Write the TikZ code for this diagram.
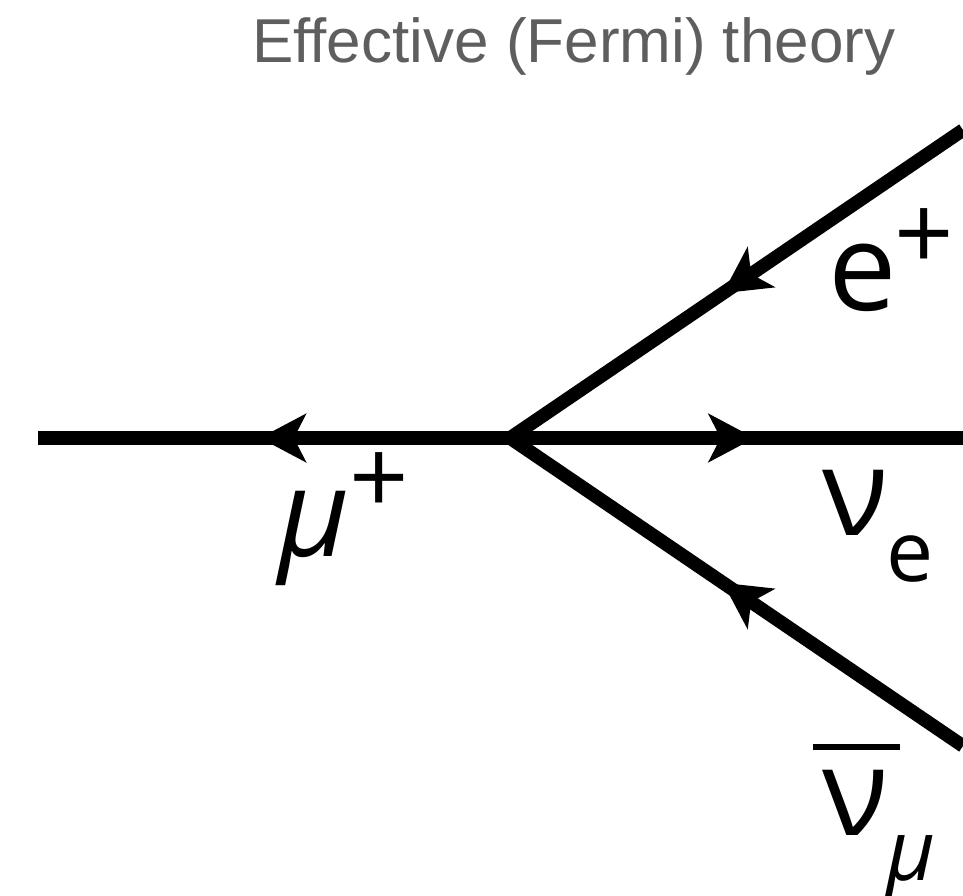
\documentclass[tikz,border=0pt]{standalone}
\usepackage{fontspec}
\setmainfont{Liberation Sans}
\newfontfamily\lblfont{Open Sans}
\usepackage{xcolor}
\definecolor{ftgray}{HTML}{5E5E5E}
\usepackage{tikz}
\usetikzlibrary{arrows.meta,decorations.markings}
\newcommand{\bigsz}{\lblfont\fontsize{122}{130}\selectfont}
\newcommand{\smlsz}{\lblfont\fontsize{84}{90}\selectfont}
\newcommand{\plussz}{\lblfont\fontsize{104}{110}\selectfont}

\begin{document}
\begin{tikzpicture}[x=1pt, y=-1pt,
  fermion/.style={line width=13.5pt, black},
  midarrow/.style={postaction={decorate, decoration={markings,
      mark=at position #1 with {\arrow{Stealth[length=46pt, width=48pt, inset=12pt]}}}}},
  lbl/.style={inner sep=0pt, font=\bigsz, black},
  title/.style={inner sep=0pt, font=\fontsize{62}{70}\selectfont\color{ftgray}}
]
\useasboundingbox (0,0) rectangle (963,896);

% vertex and external points
\coordinate (v)    at (510,438);
\coordinate (mu)   at (38,438);
\coordinate (nue)  at (963,438);
\coordinate (ep)   at (963,130);
\coordinate (numu) at (963,746);

% lines
\draw[fermion, midarrow=0.53] (v) -- (mu);
\draw[fermion, midarrow=0.54] (v) -- (nue);
\draw[fermion, midarrow=0.53] (ep) -- (v);
\draw[fermion, midarrow=0.53] (numu) -- (v);

% labels
\node[title, anchor=base west] (ttl) at (252,63) {Effective (Fermi) theory};
\node[lbl, anchor=base west] (eplbl) at (828,310)
  {e\kern-2pt\raisebox{40pt}{\plussz +}};
\node[lbl, anchor=base west] (mulbl) at (278,556)
  {{\itshape μ}\kern0pt\raisebox{42pt}{\plussz +}};
\node[lbl, anchor=base west] (nuelbl) at (822,535)
  {ν\kern-2pt\raisebox{-46pt}{\smlsz e}};
\node[lbl, anchor=base west] (numulbl) at (822,835)
  {\makebox[0pt][l]{\kern-9pt\raisebox{85pt}{\rule{87pt}{6pt}}}ν\kern-2pt\raisebox{-45pt}{\smlsz\itshape μ}};
\end{tikzpicture}
\end{document}
